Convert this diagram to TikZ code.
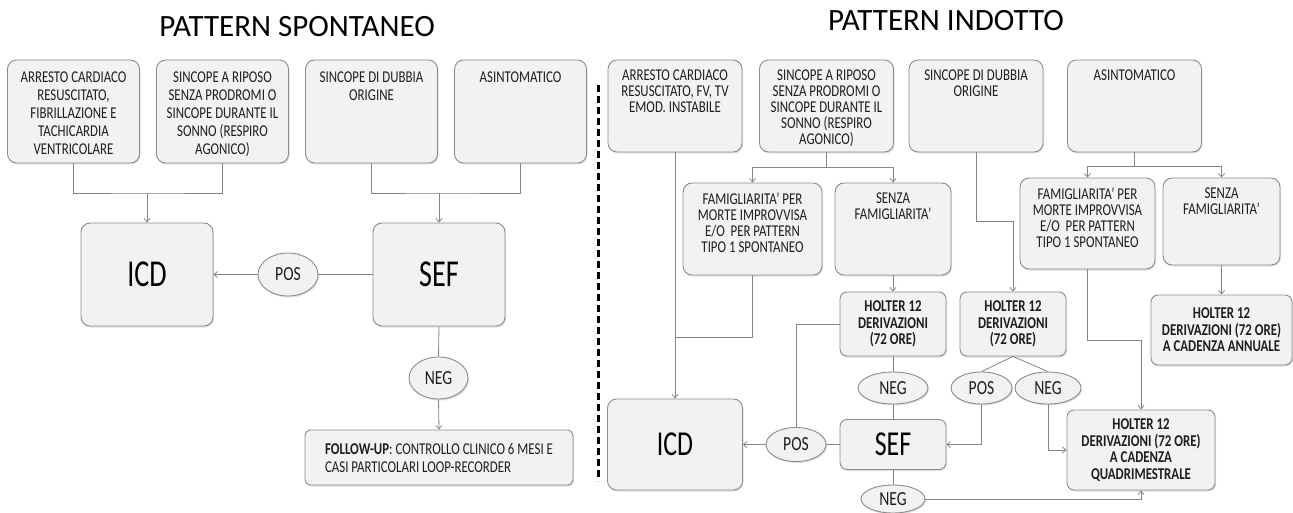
\documentclass[tikz,border=0pt]{standalone}
\usepackage{fontspec}
\setmainfont{Carlito}
\newfontfamily\narrowfont[FakeStretch=0.78]{Carlito}
\newfontfamily\bigletters[FakeStretch=0.74]{Carlito}
\usetikzlibrary{arrows.meta, shapes.geometric, shadows}
\definecolor{cellfill}{HTML}{F2F2F2}
\definecolor{cellline}{HTML}{8C8C8C}
\definecolor{linkgrey}{HTML}{858585}
\definecolor{inktext}{HTML}{1E1E1E}
\tikzset{
  dims/.style 2 args={minimum width=#1pt, minimum height=#2pt},
  cell/.style={draw=cellline, fill=cellfill, line width=0.9pt, rounded corners=9pt,
    drop shadow={shadow xshift=1pt, shadow yshift=-1.5pt, opacity=0.25}},
  oval/.style={ellipse, draw=cellline, fill=cellfill, line width=0.9pt, inner sep=0pt,
    text=inktext, font=\narrowfont\fontsize{20}{20}\selectfont,
    drop shadow={shadow xshift=1pt, shadow yshift=-1.5pt, opacity=0.25}},
  celltext/.style={align=center, inner sep=0pt, text=inktext, font=\narrowfont\fontsize{16.5}{16}\selectfont},
  celltextL/.style={celltext, font=\narrowfont\fontsize{16.5}{18}\selectfont},
  toptext/.style={label={[celltext, anchor=north, yshift=-10pt]north:{#1}}},
  toptextL/.style={label={[celltextL, anchor=north, yshift=-12pt]north:{#1}}},
  holter/.style={cell, rounded corners=7pt, align=center, inner sep=0pt, text=inktext,
    font=\narrowfont\bfseries\fontsize{16.5}{16.5}\selectfont},
  bigcell/.style={cell, text=black, font=\bigletters\fontsize{#1}{#1}\selectfont},
  title/.style={font=\fontsize{31}{31}\selectfont, text=black},
  link/.style={draw=linkgrey, line width=0.8pt},
  arr/.style={link, -{Straight Barb[length=3.5pt, width=6pt]}}
}

\begin{document}
\begin{tikzpicture}[x=1pt, y=-1pt]
\useasboundingbox (0,0) rectangle (1293,513);

% titles
\node[title] (t1) at (297,27) {PATTERN SPONTANEO};
\node[title] (t2) at (946,21) {PATTERN INDOTTO};

% pattern spontaneo
\node[cell, dims={132}{103}, toptextL={ARRESTO CARDIACO\\RESUSCITATO,\\FIBRILLAZIONE E\\TACHICARDIA\\VENTRICOLARE}] (a1) at (73.5,111.5) {};
\node[cell, dims={132}{103}, toptextL={SINCOPE A RIPOSO\\SENZA PRODROMI O\\SINCOPE DURANTE IL\\SONNO (RESPIRO\\AGONICO)}] (a2) at (222.5,111.5) {};
\node[cell, dims={132}{103}, toptextL={SINCOPE DI DUBBIA\\ORIGINE}] (a3) at (371.5,111.5) {};
\node[cell, dims={132}{103}, toptextL={ASINTOMATICO}] (a4) at (520.5,111.5) {};

\node[bigcell=38, dims={132}{103}] (icd) at (147,274.5) {ICD};
\node[bigcell=38, dims={132}{103}] (sef) at (439,274.5) {SEF};
\node[oval, dims={60}{43}] (pos) at (288,274.5) {POS};
\node[oval, dims={59}{42}] (neg) at (438.5,378) {NEG};
\node[cell, dims={268}{55}, rounded corners=6pt, align=left, text=inktext,
  font=\narrowfont\fontsize{16.5}{18}\selectfont] (fu) at (439,457.5)
  {\textbf{FOLLOW-UP}: CONTROLLO CLINICO 6 MESI E\\CASI PARTICOLARI LOOP-RECORDER};

\coordinate (j1) at (147,193);
\coordinate (j2) at (439,193);
\draw[link] (a1.south) |- (j1) -| (a2.south);
\draw[arr] (j1) -- (icd.north);
\draw[link] (a3.south) |- (j2) -| (a4.south);
\draw[arr] (j2) -- (sef.north);
\draw[link] (sef.west) -- (pos.east);
\draw[arr] (pos.west) -- (icd.east);
\draw[link] (sef.south) -- (neg.north);
\draw[arr] (neg.south) -- (fu.north);

% separator
\draw[line width=2.2pt, dash pattern=on 7pt off 4pt] (598.5,85) -- (598.5,481);

% pattern indotto
\node[cell, dims={134}{92}, toptext={ARRESTO CARDIACO\\RESUSCITATO, FV, TV\\EMOD. INSTABILE}] (b1) at (675,106) {};
\node[cell, dims={134}{92}, toptext={SINCOPE A RIPOSO\\SENZA PRODROMI O\\SINCOPE DURANTE IL\\SONNO (RESPIRO\\AGONICO)}] (b2) at (826.5,106) {};
\node[cell, dims={134}{92}, toptext={SINCOPE DI DUBBIA\\ORIGINE}] (b3) at (976,106) {};
\node[cell, dims={134}{92}, toptext={ASINTOMATICO}] (b4) at (1134.5,106) {};

\node[cell, dims={139}{92}, toptext={FAMIGLIARITA’ PER\\MORTE IMPROVVISA\\E/O\ \ PER PATTERN\\TIPO 1 SPONTANEO}] (c1) at (752.5,229) {};
\node[cell, dims={116}{92}, toptext={SENZA\\FAMIGLIARITA’}] (c2) at (893,229) {};
\node[cell, dims={135}{91}, toptext={FAMIGLIARITA’ PER\\MORTE IMPROVVISA\\E/O\ \ PER PATTERN\\TIPO 1 SPONTANEO}] (c3) at (1087.5,223.5) {};
\node[cell, dims={117}{87}, toptext={SENZA\\FAMIGLIARITA’}] (c4) at (1221.5,221.5) {};

\node[holter, dims={106}{64}] (d1) at (893,324) {HOLTER 12\\DERIVAZIONI\\(72 ORE)};
\node[holter, dims={106}{64}] (d2) at (1013,324) {HOLTER 12\\DERIVAZIONI\\(72 ORE)};
\node[holter, dims={141}{70}] (d3) at (1221.5,330) {HOLTER 12\\DERIVAZIONI (72 ORE)\\A CADENZA ANNUALE};
\node[holter, dims={148}{80}] (e1) at (1141,450) {HOLTER 12\\DERIVAZIONI (72 ORE)\\A CADENZA\\QUADRIMESTRALE};

\node[bigcell=35, dims={135}{91}] (icd2) at (675,444.5) {ICD};
\node[bigcell=35, dims={106}{50}, rounded corners=7pt] (sef2) at (893,444.5) {SEF};
\node[oval, dims={60}{34}] (pos2) at (796,444.5) {POS};
\node[oval, dims={70}{32}] (neg1) at (893,388) {NEG};
\node[oval, dims={64}{28}] (neg2) at (893,499) {NEG};
\node[oval, dims={61}{32}] (pos3) at (981.5,388) {POS};
\node[oval, dims={66}{32}] (neg3) at (1048,388) {NEG};

\coordinate (j3) at (826.5,167);
\coordinate (j4) at (675,337);
\coordinate (j5) at (1013,221);
\coordinate (j6) at (1134.5,166);
\coordinate (j7) at (1141,340);
\draw[arr] (b1.south) -- (icd2.north);
\draw[link] (b2.south) -- (j3);
\draw[arr] (j3) -| (c1.north);
\draw[arr] (j3) -| (c2.north);
\draw[link] (c1.south) |- (j4);
\draw[arr] (c2.south) -- (d1.north);
\draw[link] (d1.west) -| (pos2.north);
\draw[link] (d1.south) -- (neg1.north);
\draw[link] (neg1.south) -- (sef2.north);
\draw[link] (sef2.west) -- (pos2.east);
\draw[arr] (pos2.west) -- (icd2.east);
\draw[link] (sef2.south) -- (neg2.north);
\draw[arr] (neg2.east) -| (e1.south);
\draw[arr] (b3.south) |- (j5) -- (d2.north);
\draw[link] (d2.south) -- (pos3.north);
\draw[link] (d2.south) -- (neg3.north);
\draw[arr] (pos3.south) |- (sef2.east);
\draw[arr] (neg3.south) |- (e1.west);
\draw[link] (b4.south) -- (j6);
\draw[arr] (j6) -| (c3.north);
\draw[arr] (j6) -| (c4.north);
\draw[arr] (c3.south) |- (j7) -- (e1.north);
\draw[arr] (c4.south) -- (d3.north);
\end{tikzpicture}
\end{document}
